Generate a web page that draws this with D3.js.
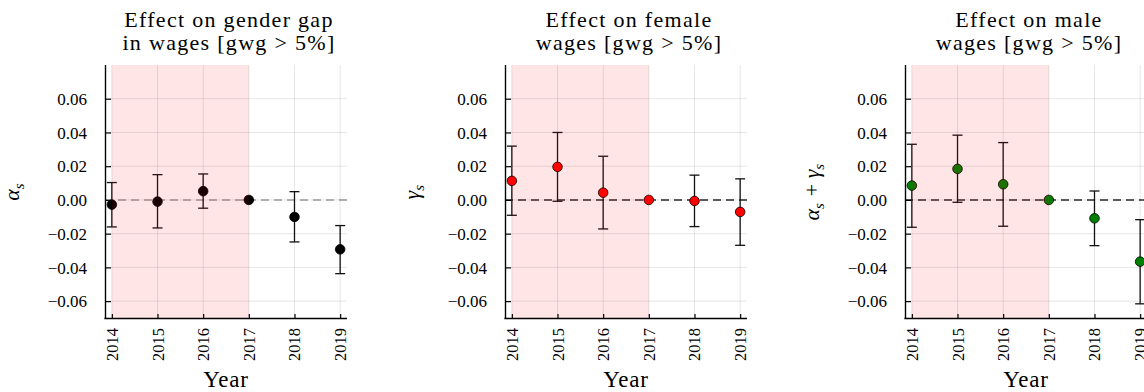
<!DOCTYPE html>
<html>
<head>
<meta charset="utf-8">
<script src="https://cdn.jsdelivr.net/npm/d3@7"></script>
<style>
  html, body { margin: 0; padding: 0; background: #fff; overflow: hidden; }
  text { font-family: "Liberation Serif", "DejaVu Serif", serif; fill: #000; }
</style>
</head>
<body>
<script>
'use strict';

// event-study years and the treatment window shaded in each panel
const years = [2014, 2015, 2016, 2017, 2018, 2019];
const shadeYears = [2014, 2017];

// gender gap (alpha_s): point estimate with lower / upper bound
const gapEst = [-0.0028, -0.0010, 0.0052, 0.0, -0.0101, -0.0293];
const gapLo  = [-0.0160, -0.0166, -0.0049, 0.0, -0.0249, -0.0437];
const gapHi  = [0.0103, 0.0150, 0.0154, 0.0, 0.0049, -0.0152];

// female wages (gamma_s)
const femEst = [0.0113, 0.0196, 0.0043, 0.0, -0.0006, -0.0071];
const femLo  = [-0.0091, -0.0008, -0.0172, 0.0, -0.0158, -0.0269];
const femHi  = [0.0319, 0.0400, 0.0259, 0.0, 0.0147, 0.0125];

// male wages (alpha_s + gamma_s)
const maleEst = [0.0085, 0.0184, 0.0093, 0.0, -0.0109, -0.0366];
const maleLo  = [-0.0162, -0.0014, -0.0156, 0.0, -0.0271, -0.0616];
const maleHi  = [0.0330, 0.0384, 0.0340, 0.0, 0.0053, -0.0117];

const yTicks = [-0.06, -0.04, -0.02, 0.00, 0.02, 0.04, 0.06];

const panels = [
  { title: ['Effect on gender gap', 'in wages [gwg > 5%]'], label: [['α', 's']],
    est: gapEst, lo: gapLo, hi: gapHi, color: '#000000', zero: '#999999' },
  { title: ['Effect on female', 'wages [gwg > 5%]'], label: [['γ', 's']],
    est: femEst, lo: femLo, hi: femHi, color: '#ff0000', zero: '#2a2a2a' },
  { title: ['Effect on male', 'wages [gwg > 5%]'], label: [['α', 's'], ['γ', 's']],
    est: maleEst, lo: maleLo, hi: maleHi, color: '#008000', zero: '#2a2a2a' }
];

const W = 1144, H = 392;
const plotTop = 65, plotBottom = 318, plotW = 242;

const svg = d3.select('body').append('svg')
  .attr('width', W)
  .attr('height', H);

panels.forEach((p, i) => {
  const left = 105 + 400 * i;
  const g = svg.append('g');

  const x = d3.scaleLinear().domain([2013.85, 2019.15]).range([left, left + plotW]);
  const y = d3.scaleLinear().domain([-0.07, 0.08]).range([plotBottom, plotTop]);

  // grid
  g.selectAll('.vgrid').data(years).enter().append('line')
    .attr('x1', d => x(d)).attr('x2', d => x(d))
    .attr('y1', plotTop).attr('y2', plotBottom)
    .attr('stroke', '#000').attr('stroke-opacity', 0.1).attr('stroke-width', 1);
  g.selectAll('.hgrid').data(yTicks).enter().append('line')
    .attr('x1', left).attr('x2', left + plotW)
    .attr('y1', d => y(d)).attr('y2', d => y(d))
    .attr('stroke', '#000').attr('stroke-opacity', 0.1).attr('stroke-width', 1);

  // zero reference line
  g.append('line')
    .attr('x1', left).attr('x2', left + plotW)
    .attr('y1', y(0)).attr('y2', y(0))
    .attr('stroke', p.zero).attr('stroke-width', 1.5)
    .attr('stroke-dasharray', '8,5');

  // error bars
  const bars = g.selectAll('.bar').data(years).enter().append('g');
  bars.append('line')
    .attr('x1', d => x(d)).attr('x2', d => x(d))
    .attr('y1', (d, k) => y(p.lo[k])).attr('y2', (d, k) => y(p.hi[k]))
    .attr('stroke', '#111').attr('stroke-width', 1.3);
  bars.append('line')
    .attr('x1', d => x(d) - 5).attr('x2', d => x(d) + 5)
    .attr('y1', (d, k) => y(p.lo[k])).attr('y2', (d, k) => y(p.lo[k]))
    .attr('stroke', '#111').attr('stroke-width', 1.3);
  bars.append('line')
    .attr('x1', d => x(d) - 5).attr('x2', d => x(d) + 5)
    .attr('y1', (d, k) => y(p.hi[k])).attr('y2', (d, k) => y(p.hi[k]))
    .attr('stroke', '#111').attr('stroke-width', 1.3);

  // point estimates
  g.selectAll('.dot').data(years).enter().append('circle')
    .attr('cx', d => x(d))
    .attr('cy', (d, k) => y(p.est[k]))
    .attr('r', 4.8)
    .attr('fill', p.color)
    .attr('stroke', '#000').attr('stroke-width', 0.8);

  // shaded window, translucent on top of the marks
  g.append('rect')
    .attr('x', x(shadeYears[0]))
    .attr('y', plotTop)
    .attr('width', x(shadeYears[1]) - x(shadeYears[0]))
    .attr('height', plotBottom - plotTop)
    .attr('fill', '#ff0000').attr('fill-opacity', 0.1);

  // axes with inward ticks
  const xAxis = d3.axisBottom(x).tickValues(years).tickSizeInner(-4).tickSizeOuter(0).tickFormat(d3.format('d'));
  const gx = g.append('g').attr('transform', `translate(0,${plotBottom})`).call(xAxis);
  gx.select('.domain').attr('stroke', '#000').attr('stroke-width', 1.4).attr('d', `M${left - 0.7},0.5H${left + plotW}`);
  gx.selectAll('.tick line').attr('stroke', '#000').attr('stroke-width', 1.2);
  gx.selectAll('.tick text')
    .attr('font-size', 16.5)
    .attr('font-family', null)
    .attr('text-anchor', 'end')
    .attr('dominant-baseline', 'central')
    .attr('dy', null)
    .attr('x', 0).attr('y', 0)
    .attr('transform', 'translate(0,10) rotate(-90)');

  const yAxis = d3.axisLeft(y).tickValues(yTicks).tickSizeInner(-6).tickSizeOuter(0)
    .tickFormat(d => d3.format('.2f')(d).replace('-', '\u2212'));
  const gy = g.append('g').attr('transform', `translate(${left},0)`).call(yAxis);
  gy.select('.domain').attr('stroke', '#000').attr('stroke-width', 1.4).attr('d', `M0.5,${plotTop}V${plotBottom}`);
  gy.selectAll('.tick line').attr('stroke', '#000').attr('stroke-width', 1.2);
  gy.selectAll('.tick text')
    .attr('font-size', 17)
    .attr('font-family', null)
    .attr('x', -18)
    .attr('dy', '0.34em');

  // title
  const cx = left + plotW / 2;
  p.title.forEach((line, k) => {
    g.append('text')
      .attr('x', cx + 3).attr('y', 27 + k * 23)
      .attr('text-anchor', 'middle')
      .attr('font-size', 22)
      .attr('letter-spacing', 1.3)
      .text(line);
  });

  // axis titles
  g.append('text')
    .attr('x', cx).attr('y', 387)
    .attr('text-anchor', 'middle')
    .attr('font-size', 23)
    .attr('letter-spacing', 0.8)
    .text('Year');

  const lab = g.append('text')
    .attr('transform', `translate(${left - 86},${(plotTop + plotBottom) / 2}) rotate(-90)`)
    .attr('text-anchor', 'middle')
    .attr('font-size', 22);
  p.label.forEach((part, k) => {
    if (k > 0) lab.append('tspan').attr('font-style', 'normal').text(' + ');
    lab.append('tspan').attr('font-style', 'italic').text(part[0]);
    lab.append('tspan').attr('font-style', 'italic').attr('font-size', 15)
      .attr('dy', 5).text(part[1]);
    lab.append('tspan').attr('font-size', 15).attr('dy', -5).text('\u200a');
  });
});
</script>
</body>
</html>
